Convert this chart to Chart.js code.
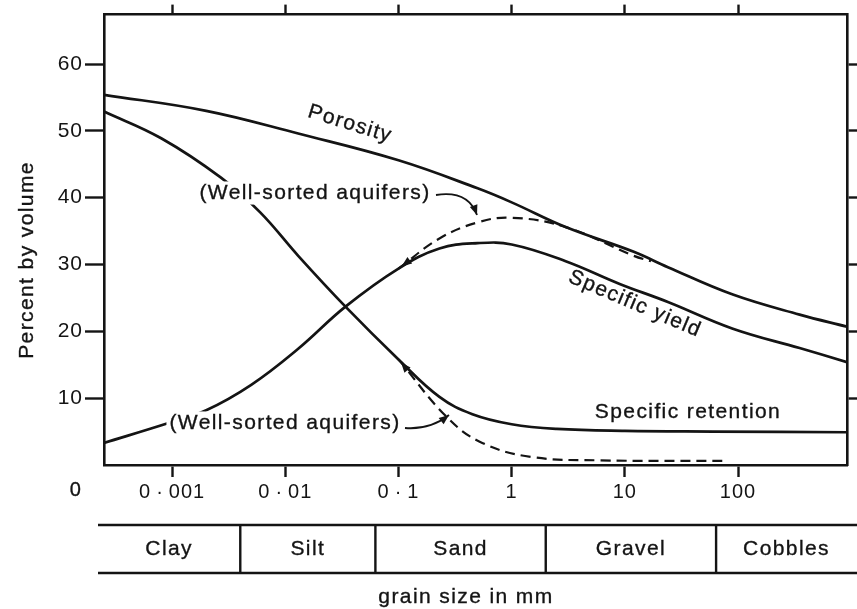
<!DOCTYPE html>
<html lang="en">
<head>
<meta charset="UTF-8">
<title>Porosity, specific yield and specific retention</title>
<style>
  html, body { margin: 0; padding: 0; background: #fff; }
  #wrap { width: 857px; height: 609px; }
</style>
<script src="https://cdn.jsdelivr.net/npm/chart.js"></script>
</head>
<body>
<div id="wrap"><canvas id="myChart" width="857" height="609"></canvas></div>
<script>
// axis ticks
const sizeTicks = [0.001, 0.01, 0.1, 1, 10, 100];
const sizeTickLabels = ['0\u2009\u00b7\u2009001', '0\u2009\u00b7\u200901', '0\u2009\u00b7\u20091', '1', '10', '100'];
const pctTicks = [10, 20, 30, 40, 50, 60];

// grain size classes, boundaries in mm
const classNames = ['Clay', 'Silt', 'Sand', 'Gravel', 'Cobbles'];
const classBounds = [0.004, 0.0625, 2, 64];

// curves (grain size in mm, percent by volume)
const porositySize = [0.00025, 0.002, 0.013, 0.1, 0.5, 1, 3, 12, 24, 90, 350, 918];
const porosityPct  = [55.4, 53.0, 49.6, 45.6, 41.4, 39.3, 35.6, 31.9, 29.6, 25.5, 22.5, 20.7];

const yieldSize = [0.00025, 0.0009, 0.002, 0.005, 0.013, 0.034, 0.1, 0.23, 0.5, 1, 3, 9, 24, 90, 350, 918];
const yieldPct  = [3.3, 6.2, 8.2, 12.0, 17.4, 23.7, 29.4, 32.4, 33.2, 33.0, 30.5, 27.1, 24.4, 20.4, 17.5, 15.4];

const retentionSize = [0.00025, 0.0008, 0.0027, 0.006, 0.013, 0.034, 0.1, 0.23, 0.45, 1, 2.5, 10, 60, 918];
const retentionPct  = [52.9, 48.9, 43.0, 37.8, 31.3, 23.7, 15.8, 10.2, 7.6, 6.1, 5.4, 5.1, 5.0, 4.9];

// well-sorted aquifers (dashed)
const sortedYieldSize = [0.1, 0.23, 0.5, 1, 3, 12, 17];
const sortedYieldPct  = [29.4, 33.9, 36.3, 37.0, 35.6, 31.3, 30.5];

const sortedRetentionSize = [0.1, 0.27, 0.55, 1.5, 6, 80];
const sortedRetentionPct  = [15.8, 7.1, 3.3, 1.2, 0.7, 0.6];

const ink = '#141414';
const fontFamily = "'Liberation Sans', Arial, Helvetica, sans-serif";
Chart.defaults.font.family = fontFamily;
Chart.defaults.color = ink;

function curve(sizes, pcts, dashed) {
    return {
        data: sizes.map((s, i) => ({ x: s, y: pcts[i] })),
        borderColor: ink,
        borderWidth: dashed ? 2.2 : 2.7,
        borderDash: dashed ? [10, 6] : [],
        pointRadius: 0,
        fill: false,
        tension: 0.4
    };
}

function fixTicks(values) {
    return scale => { scale.ticks = values.map(v => ({ value: v })); };
}

// draws a text label, optionally rotated and knocked out of the curves
function label(ctx, str, x, y, angle, bg, size) {
    size = size || 21;
    ctx.save();
    ctx.translate(x, y);
    if (angle) ctx.rotate(angle * Math.PI / 180);
    ctx.font = size + 'px ' + fontFamily;
    ctx.letterSpacing = '1.4px';
    ctx.textAlign = 'center';
    ctx.textBaseline = 'middle';
    if (bg) {
        const w = ctx.measureText(str).width;
        ctx.fillStyle = '#fff';
        ctx.fillRect(-w / 2 - 3, -size * 0.55, w + 6, size * 1.1);
    }
    ctx.fillStyle = ink;
    ctx.strokeStyle = ink;
    ctx.lineWidth = 0.35;
    ctx.fillText(str, 0, 0);
    ctx.strokeText(str, 0, 0);
    ctx.restore();
}

function head(ctx, tip, angle) {
    ctx.save();
    ctx.fillStyle = ink;
    ctx.translate(tip[0], tip[1]);
    ctx.rotate(angle);
    ctx.beginPath();
    ctx.moveTo(0, 0);
    ctx.lineTo(-10, -4);
    ctx.lineTo(-10, 4);
    ctx.closePath();
    ctx.fill();
    ctx.restore();
}

function arrow(ctx, from, ctrl, to) {
    ctx.save();
    ctx.strokeStyle = ink;
    ctx.lineWidth = 1.8;
    ctx.beginPath();
    ctx.moveTo(from[0], from[1]);
    ctx.quadraticCurveTo(ctrl[0], ctrl[1], to[0], to[1]);
    ctx.stroke();
    ctx.restore();
    head(ctx, to, Math.atan2(to[1] - ctrl[1], to[0] - ctrl[0]));
}

// small arrowhead where a dashed branch leaves its solid curve
function branchHead(ctx, chart, index) {
    const pts = chart.getDatasetMeta(index).data;
    const a = Math.atan2(pts[0].y - pts[1].y, pts[0].x - pts[1].x);
    head(ctx, [pts[0].x + 4 * Math.cos(a + Math.PI), pts[0].y + 4 * Math.sin(a + Math.PI)], a);
}

const decorations = {
    id: 'decorations',
    beforeDraw(chart) {
        const ctx = chart.ctx;
        ctx.save();
        ctx.fillStyle = '#fff';
        ctx.fillRect(0, 0, chart.width, chart.height);
        ctx.restore();
        ctx.letterSpacing = '1px';
    },
    afterDatasetsDraw(chart) {
        const ctx = chart.ctx;
        label(ctx, 'Porosity', 350, 124, 17, false);
        label(ctx, '(Well-sorted aquifers)', 315, 193, 0, true);
        label(ctx, '(Well-sorted aquifers)', 285, 423, 0, true);
        label(ctx, 'Specific yield', 635, 304, 23, false);
        label(ctx, 'Specific retention', 688, 412, 0, false);
        arrow(ctx, [436, 195], [468, 190], [477, 215]);
        arrow(ctx, [405, 428], [430, 430], [449, 415]);
        branchHead(ctx, chart, 3);
        branchHead(ctx, chart, 4);
    },
    afterDraw(chart) {
        const ctx = chart.ctx;
        const xs = chart.scales.x;
        // origin label
        label(ctx, '0', 76, 490, 0, false, 20);
        // axis title
        label(ctx, 'Percent by volume', 27, 260, -90, false, 21);
        // size class table
        const top = 525, bottom = 573, left = 98, right = chart.width;
        ctx.save();
        ctx.strokeStyle = ink;
        ctx.lineWidth = 2.4;
        ctx.beginPath();
        ctx.moveTo(left, top); ctx.lineTo(right, top);
        ctx.moveTo(left, bottom); ctx.lineTo(right, bottom);
        const edges = [left].concat(classBounds.map(b => xs.getPixelForValue(b)), [right]);
        classBounds.forEach((b, i) => {
            const px = edges[i + 1];
            ctx.moveTo(px, top); ctx.lineTo(px, bottom);
        });
        ctx.stroke();
        ctx.restore();
        classNames.forEach((n, i) => {
            label(ctx, n, (edges[i] + edges[i + 1]) / 2, (top + bottom) / 2, 0, false);
        });
        label(ctx, 'grain size in mm', 466, 597, 0, false);
    }
};

const xRange = { min: 0.00025, max: 918 };
const tickFont = { size: 20, family: fontFamily };

new Chart(document.getElementById('myChart'), {
    type: 'line',
    data: {
        datasets: [
            curve(porositySize, porosityPct, false),
            curve(yieldSize, yieldPct, false),
            curve(retentionSize, retentionPct, false),
            curve(sortedYieldSize, sortedYieldPct, true),
            curve(sortedRetentionSize, sortedRetentionPct, true)
        ]
    },
    options: {
        responsive: false,
        animation: false,
        devicePixelRatio: 1,
        layout: { padding: 0 },
        plugins: { legend: { display: false }, tooltip: { enabled: false } },
        scales: {
            x: {
                type: 'logarithmic', position: 'bottom', min: xRange.min, max: xRange.max,
                afterBuildTicks: fixTicks(sizeTicks),
                afterFit: s => { s.height = 144; },
                ticks: { callback: (v, i) => sizeTickLabels[i], font: tickFont, color: ink, padding: 3, maxRotation: 0, autoSkip: false },
                grid: { drawOnChartArea: false, drawTicks: true, tickLength: 12, tickWidth: 2.4, tickColor: ink },
                border: { display: true, width: 2.6, color: ink }
            },
            x2: {
                type: 'logarithmic', position: 'top', min: xRange.min, max: xRange.max,
                afterBuildTicks: fixTicks(sizeTicks),
                afterFit: s => { s.height = 10; },
                ticks: { display: false },
                grid: { drawOnChartArea: false, drawTicks: true, tickLength: 10, tickWidth: 2.4, tickColor: ink },
                border: { display: true, width: 2.6, color: ink }
            },
            y: {
                type: 'linear', position: 'left', min: 0, max: 67.4,
                afterBuildTicks: fixTicks(pctTicks),
                afterFit: s => { s.width = 104; },
                ticks: { font: { size: 21, family: fontFamily }, color: ink, padding: 2 },
                grid: { drawOnChartArea: false, drawTicks: true, tickLength: 19, tickWidth: 2.4, tickColor: ink },
                border: { display: true, width: 2.6, color: ink }
            },
            y2: {
                type: 'linear', position: 'right', min: 0, max: 67.4,
                afterBuildTicks: fixTicks(pctTicks),
                afterFit: s => { s.width = 10; },
                ticks: { display: false },
                grid: { drawOnChartArea: false, drawTicks: true, tickLength: 10, tickWidth: 2.4, tickColor: ink },
                border: { display: true, width: 2.6, color: ink }
            }
        }
    },
    plugins: [decorations]
});
</script>
</body>
</html>
